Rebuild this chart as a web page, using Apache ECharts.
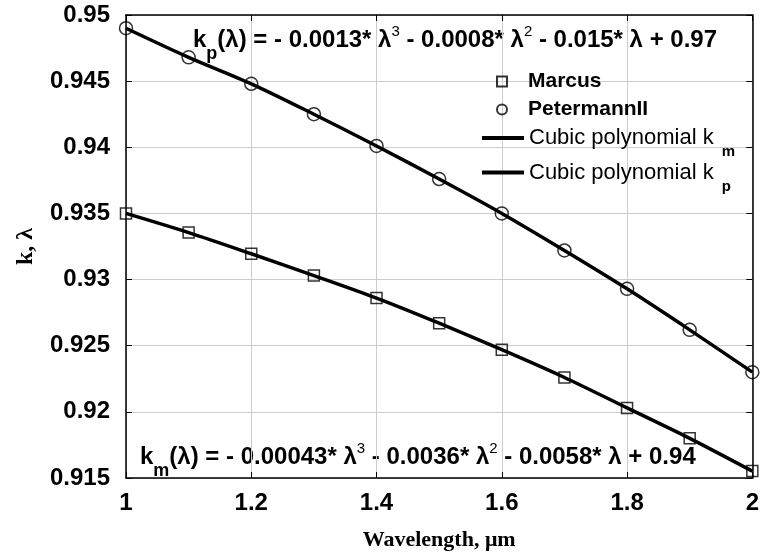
<!DOCTYPE html>
<html>
<head>
<meta charset="utf-8">
<script src="https://cdn.jsdelivr.net/npm/echarts@6/dist/echarts.min.js"></script>
<style>
  html, body { margin: 0; padding: 0; background: #fff; }
  #chart { width: 762px; height: 558px; }
</style>
</head>
<body>
<div id="chart"></div>
<script>
// wavelength, um
const wavelength = [1, 1.1, 1.2, 1.3, 1.4, 1.5, 1.6, 1.7, 1.8, 1.9, 2]
// values
const marcus = [0.9350, 0.93355, 0.93195, 0.9303, 0.9286, 0.9267, 0.9247, 0.9226, 0.9203, 0.9180, 0.91552]
const petermann = [0.9490, 0.9468, 0.9448, 0.9425, 0.9401, 0.9376, 0.9350, 0.9322, 0.9293, 0.9262, 0.9230]

const pairs = (ys) => wavelength.map((x, i) => [x, ys[i]])

const chart = echarts.init(document.getElementById('chart'))

const sansBold = { fontFamily: 'Liberation Sans', fontWeight: 'bold', color: '#000' }

// rich styles for the two fit equations
const eqRich = {
  b: { ...sansBold, fontSize: 24, verticalAlign: 'top', padding: [4, 0, 0, 0] },
  sub: { ...sansBold, fontSize: 18, verticalAlign: 'top', padding: [21, 0, 0, 0] },
  sup: { fontFamily: 'Liberation Sans', fontSize: 15, color: '#000', verticalAlign: 'top', padding: [0, 0, 0, 0] }
}

chart.setOption({
  animation: false,
  backgroundColor: '#fff',
  grid: { left: 126, top: 15, right: 9, bottom: 80 },
  xAxis: [
    {
      type: 'value', min: 1, max: 2, interval: 0.2,
      name: 'Wavelength, \u03bcm', nameLocation: 'middle', nameGap: 51,
      nameTextStyle: { fontFamily: 'Liberation Serif', fontWeight: 'bold', fontSize: 22, color: '#000' },
      axisLine: { lineStyle: { color: '#000', width: 1.5 } },
      axisTick: { inside: true, length: 6, lineStyle: { color: '#000' } },
      axisLabel: { ...sansBold, fontSize: 24, margin: 13, formatter: (v) => String(+v.toFixed(1)) },
      splitLine: { show: true, lineStyle: { color: '#ccc', width: 1 } }
    },
    {
      type: 'value', min: 1, max: 2, interval: 0.2, position: 'top',
      axisLine: { lineStyle: { color: '#000', width: 1.5 } },
      axisTick: { inside: true, length: 6, lineStyle: { color: '#000' } },
      axisLabel: { show: false }, splitLine: { show: false }
    }
  ],
  yAxis: [
    {
      type: 'value', min: 0.915, max: 0.95, interval: 0.005,
      name: 'k, \u03bb', nameLocation: 'middle', nameGap: 88, nameRotate: 90,
      nameTextStyle: { fontFamily: 'Liberation Serif', fontWeight: 'bold', fontSize: 24, color: '#000' },
      axisLine: { lineStyle: { color: '#000', width: 1.5 } },
      axisTick: { inside: true, length: 6, lineStyle: { color: '#000' } },
      axisLabel: { ...sansBold, fontSize: 24, margin: 16, formatter: (v) => String(+v.toFixed(3)) },
      splitLine: { show: true, lineStyle: { color: '#ccc', width: 1 } }
    },
    {
      type: 'value', min: 0.915, max: 0.95, interval: 0.005, position: 'right',
      axisLine: { lineStyle: { color: '#000', width: 1.5 } },
      axisTick: { inside: true, length: 6, lineStyle: { color: '#000' } },
      axisLabel: { show: false }, splitLine: { show: false }
    }
  ],
  legend: [
    {
      left: 491, top: 66, orient: 'vertical', itemGap: 7,
      itemWidth: 10, itemHeight: 10,
      data: [
        { name: 'Marcus', icon: 'rect' },
        { name: 'PetermannII', icon: 'circle' }
      ],
      textStyle: { ...sansBold, fontSize: 21, padding: [0, 0, 0, 16] }
    },
    {
      left: 477, top: 122, orient: 'vertical', itemGap: 2,
      itemWidth: 42, itemHeight: 4,
      data: [
        { name: 'Cubic polynomial km', icon: 'rect' },
        { name: 'Cubic polynomial kp', icon: 'rect' }
      ],
      formatter: (name) => '{t|Cubic polynomial k}{s|' + name.slice(-1) + '}',
      textStyle: {
        rich: {
          t: { fontFamily: 'Liberation Sans', fontSize: 22, color: '#000' },
          s: { fontFamily: 'Liberation Sans', fontWeight: 'bold', fontSize: 15, color: '#000', padding: [28, 0, 0, 8] }
        }
      }
    }
  ],
  graphic: [
    {
      type: 'text', left: 193, top: 24,
      style: {
        text: '{b|k}{sub|p}{b|(\u03bb) = - 0.0013* \u03bb}{sup|3}{b| - 0.0008* \u03bb}{sup|2}{b| - 0.015* \u03bb + 0.97}',
        rich: eqRich
      }
    },
    {
      type: 'text', left: 140, top: 441,
      style: {
        text: '{b|k}{sub|m}{b|(\u03bb) = - 0.00043* \u03bb}{sup|3}{b| - 0.0036* \u03bb}{sup|2}{b| - 0.0058* \u03bb + 0.94}',
        rich: eqRich
      }
    }
  ],
  series: [
    {
      name: 'Cubic polynomial km', type: 'line', data: pairs(marcus),
      smooth: 0.3, showSymbol: false, symbol: 'none',
      lineStyle: { color: '#000', width: 3.5 }, itemStyle: { color: '#000' }, z: 2
    },
    {
      name: 'Cubic polynomial kp', type: 'line', data: pairs(petermann),
      smooth: 0.3, showSymbol: false, symbol: 'none',
      lineStyle: { color: '#000', width: 3.5 }, itemStyle: { color: '#000' }, z: 2
    },
    {
      name: 'Marcus', type: 'scatter', data: pairs(marcus),
      symbol: 'rect', symbolSize: 11,
      itemStyle: { color: 'rgba(0,0,0,0)', borderColor: '#000', borderWidth: 1.5 }, z: 3
    },
    {
      name: 'PetermannII', type: 'scatter', data: pairs(petermann),
      symbol: 'circle', symbolSize: 13,
      itemStyle: { color: 'rgba(0,0,0,0)', borderColor: '#000', borderWidth: 1.5 }, z: 3
    }
  ]
})
</script>
</body>
</html>
